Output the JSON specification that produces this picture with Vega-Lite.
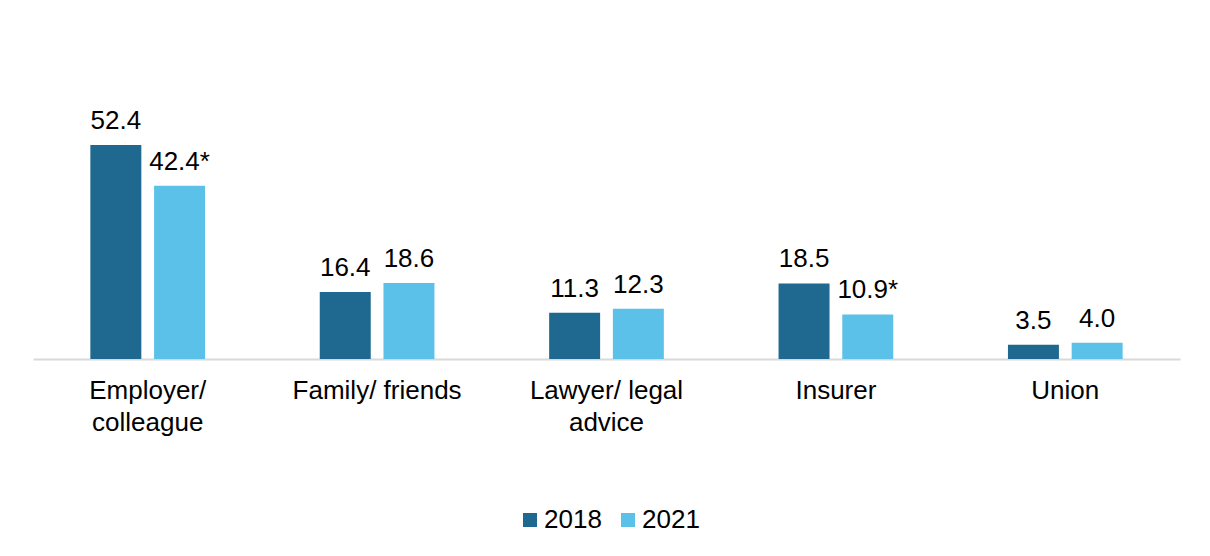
{
  "$schema": "https://vega.github.io/schema/vega-lite/v6.json",
  "width": 1147,
  "height": 245,
  "autosize": {"type": "none"},
  "padding": {"left": 33, "top": 114, "right": 30, "bottom": 197},
  "background": "white",
  "config": {
    "font": "Liberation Sans",
    "view": {"stroke": null}
  },
  "data": {
    "values": [
      {"category": "Employer/ colleague", "year": "2018", "value": 52.4, "label": "52.4"},
      {"category": "Employer/ colleague", "year": "2021", "value": 42.4, "label": "42.4*"},
      {"category": "Family/ friends", "year": "2018", "value": 16.4, "label": "16.4"},
      {"category": "Family/ friends", "year": "2021", "value": 18.6, "label": "18.6"},
      {"category": "Lawyer/ legal advice", "year": "2018", "value": 11.3, "label": "11.3"},
      {"category": "Lawyer/ legal advice", "year": "2021", "value": 12.3, "label": "12.3"},
      {"category": "Insurer", "year": "2018", "value": 18.5, "label": "18.5"},
      {"category": "Insurer", "year": "2021", "value": 10.9, "label": "10.9*"},
      {"category": "Union", "year": "2018", "value": 3.5, "label": "3.5"},
      {"category": "Union", "year": "2021", "value": 4.0, "label": "4.0"}
    ]
  },
  "encoding": {
    "x": {
      "field": "category",
      "type": "nominal",
      "sort": null,
      "scale": {"paddingInner": 0.5, "paddingOuter": 0.25},
      "axis": {
        "title": null,
        "labelAngle": 0,
        "ticks": false,
        "domainColor": "#d9d9d9",
        "domainWidth": 2,
        "labelFontSize": 26,
        "labelColor": "#000000",
        "labelPadding": 18,
        "labelLineHeight": 32,
        "labelLimit": 300,
        "labelExpr": "datum.value == 'Employer/ colleague' ? ['Employer/', 'colleague'] : datum.value == 'Lawyer/ legal advice' ? ['Lawyer/ legal', 'advice'] : datum.value"
      }
    },
    "xOffset": {
      "field": "year",
      "type": "nominal",
      "scale": {"paddingInner": 0.2, "paddingOuter": 0}
    },
    "y": {
      "field": "value",
      "type": "quantitative",
      "scale": {"domain": [0, 60]},
      "axis": null
    }
  },
  "layer": [
    {
      "mark": {"type": "bar"},
      "encoding": {
        "color": {
          "field": "year",
          "type": "nominal",
          "scale": {"domain": ["2018", "2021"], "range": ["#1F6890", "#5BC1E8"]},
          "legend": {
            "title": null,
            "orient": "none",
            "legendX": 484,
            "legendY": 393,
            "direction": "horizontal",
            "symbolType": "square",
            "symbolSize": 196,
            "symbolStrokeWidth": 0,
            "labelFontSize": 26,
            "labelColor": "#000000",
            "labelOffset": 1,
            "columnPadding": 13
          }
        }
      }
    },
    {
      "mark": {"type": "text", "baseline": "alphabetic", "dy": -16, "fontSize": 26, "color": "#000000"},
      "encoding": {
        "text": {"field": "label"}
      }
    }
  ]
}
